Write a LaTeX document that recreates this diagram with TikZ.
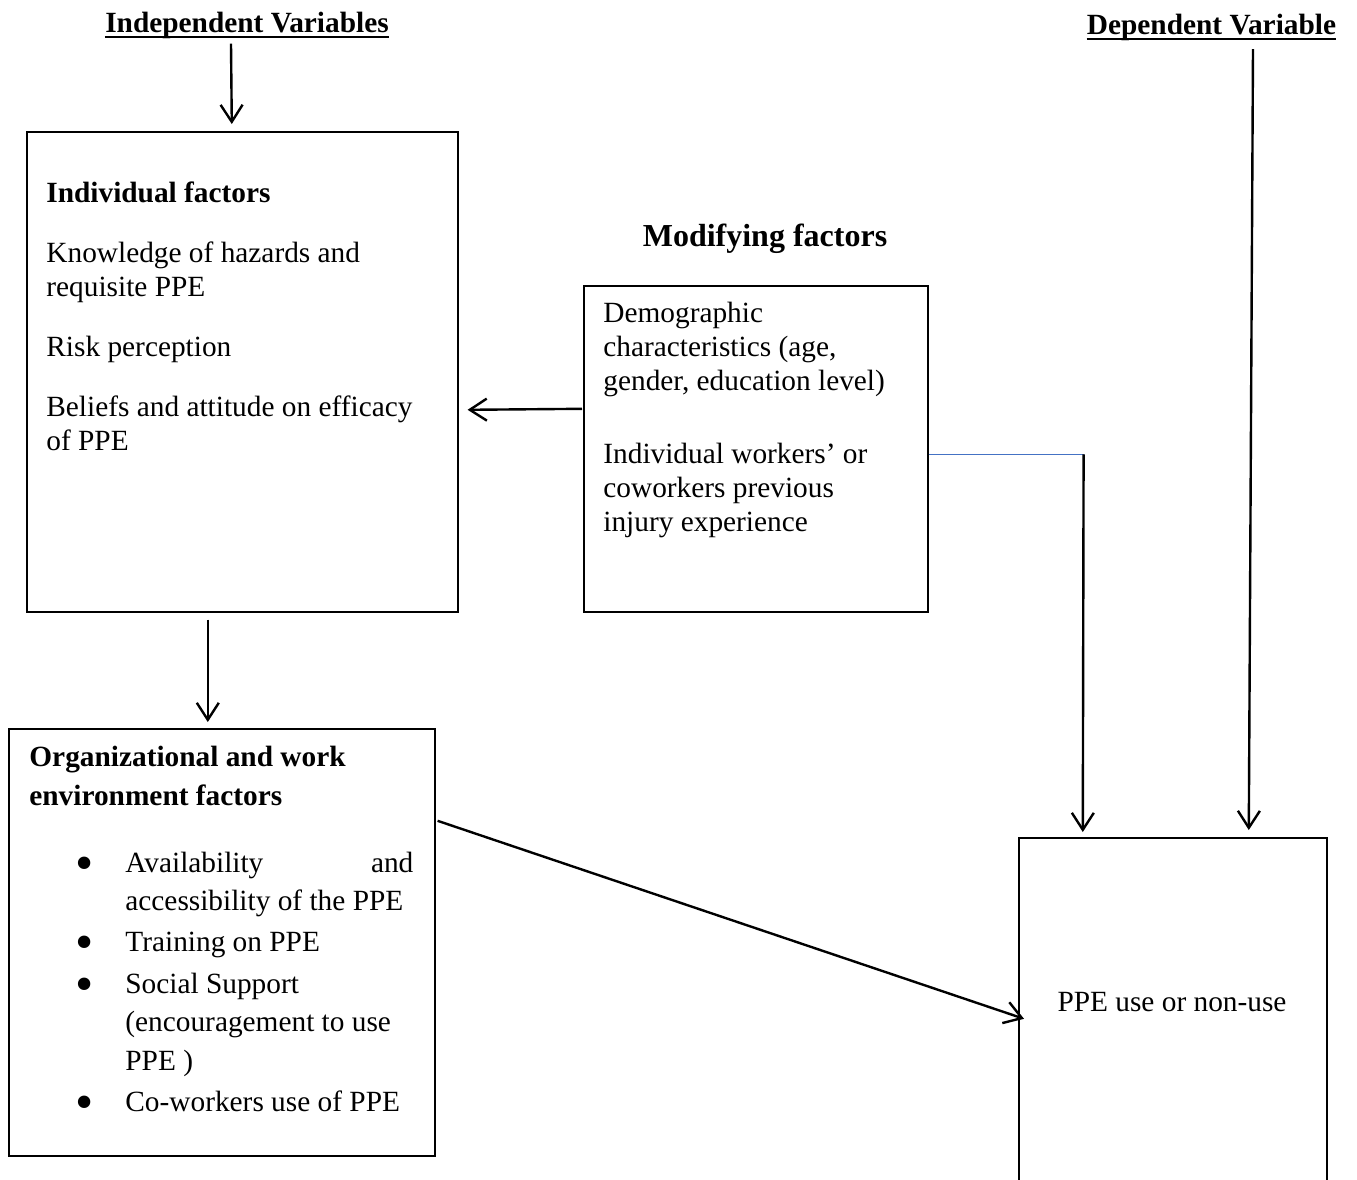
\documentclass[tikz,border=0pt]{standalone}
\usepackage{fontspec}
\setmainfont{Liberation Serif}
\usetikzlibrary{arrows.meta,calc}
\definecolor{lineblue}{RGB}{68,114,196}
\newcommand\firstbase[1]{\parbox[t]{260pt}{\raggedright #1}}
\begin{document}
\begin{tikzpicture}[x=0.5pt,y=-0.5pt,
  box/.style={draw, line width=0.8pt, inner sep=0pt, anchor=north west},
  txt/.style={inner sep=0pt, anchor=base west, font=\fontsize{14.67pt}{17pt}\selectfont},
  ttl/.style={inner sep=0pt, anchor=base, font=\fontsize{14.67pt}{17pt}\selectfont\bfseries},
  bul/.style={inner sep=0pt, anchor=center, font=\fontsize{26pt}{26pt}\selectfont},
  arr/.style={-{Straight Barb[length=8.5pt,width=11pt,line width=1.2pt]}, line width=1.2pt},
  ul/.style={line width=1.1pt}]
\useasboundingbox (0,0) rectangle (1357,1180);
\clip (0,0) rectangle (1357,1180);

% titles
\node[ttl] (iv) at (247,32) {Independent Variables};
\draw[ul] ($(iv.base west)+(0,5)$) -- ($(iv.base east)+(0,5)$);
\node[ttl] (dv) at (1211.5,34) {Dependent Variable};
\draw[ul] ($(dv.base west)+(0,5)$) -- ($(dv.base east)+(0,5)$);
\node[ttl, font=\fontsize{16pt}{19pt}\selectfont\bfseries] (mf) at (765,246) {Modifying factors};

% boxes
\node[box, minimum width=215.5pt, minimum height=240pt] (ind) at (26,131) {};
\node[box, minimum width=172pt, minimum height=163pt] (mod) at (583,285) {};
\node[box, minimum width=213pt, minimum height=213.5pt] (org) at (8,728) {};
\node[box, minimum width=154pt, minimum height=210pt] (ppe) at (1018,837) {};

% individual factors text
\node[txt] (indt) at (46,202) {\firstbase{\textbf{Individual factors}\\[13pt]
Knowledge of hazards and\\ requisite PPE\\[13pt]
Risk perception\\[13pt]
Beliefs and attitude on efficacy\\ of PPE}};

% modifying factors text
\node[txt] (modt) at (603,322) {\firstbase{Demographic\\ characteristics (age,\\ gender, education level)\\[19.5pt]
Individual workers’ or\\ coworkers previous\\ injury experience}};

% organizational text
\node[txt, font=\fontsize{14.67pt}{19.5pt}\selectfont\bfseries] (orgt) at (29,766) {\firstbase{Organizational and work\\ environment factors}};
\node[txt] (b1) at (125,872) {\hbox to 144pt{Availability\hfill and}};
\node[txt] (b1b) at (125,910) {accessibility of the PPE};
\node[txt] (b2) at (125,951) {Training on PPE};
\node[txt] (b3) at (125,993) {Social Support};
\node[txt] (b3b) at (125,1031) {(encouragement to use};
\node[txt] (b3c) at (125,1070) {PPE )};
\node[txt] (b4) at (125,1111) {Co-workers use of PPE};
\foreach \y/\n in {869/d1,948/d2,990/d3,1108/d4}
  \node[bul] (\n) at (85,\y) {\textbullet};

% ppe text
\node[txt, anchor=base] (ppet) at (1172,1011) {PPE use or non-use};

% connectors
\draw[arr] ($(iv.south)+(-16,5)$) -- ($(ind.north)+(-10.5,-7)$);
\draw[arr] ($(mod.west)+(-1,-40)$) -- ($(ind.east)+(9,38)$);
\coordinate (bend) at ($(mod.east)+(155,5.5)$);
\draw[lineblue, line width=0.8pt] ($(mod.east)+(0,5.5)$) -- (bend);
\draw[arr] (bend) -- ($(ppe.north)+(-90,-5)$);
\draw[arr] ($(dv.south)+(41.5,8.5)$) -- ($(ppe.north)+(76,-7)$);
\draw[arr] ($(ind.south)+(-34.5,7)$) -- ($(org.north)+(-14,-6)$);
\draw[arr] ($(org.east)+(2,-121.5)$) -- ($(ppe.west)+(6,-29)$);
\end{tikzpicture}
\end{document}
